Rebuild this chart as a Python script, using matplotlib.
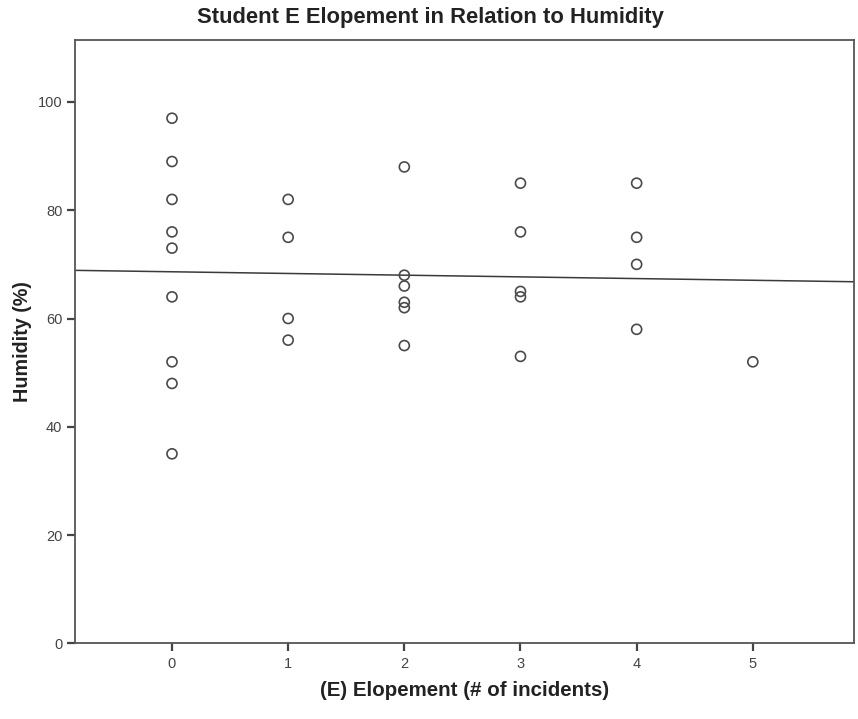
import numpy as np
import matplotlib
matplotlib.use("Agg")
import matplotlib.pyplot as plt

plt.rcParams['font.family'] = ['Liberation Sans', 'DejaVu Sans']

# Elopement incidents per day and humidity (%) recorded for that day
elopement = [0, 0, 0, 0, 0, 0, 0, 0, 0,
             1, 1, 1, 1,
             2, 2, 2, 2, 2, 2,
             3, 3, 3, 3, 3,
             4, 4, 4, 4,
             5]
humidity = [97, 89, 82, 76, 73, 64, 52, 48, 35,
            82, 75, 60, 56,
            88, 68, 66, 63, 62, 55,
            85, 76, 65, 64, 53,
            85, 75, 70, 58,
            52]
x_ticks = [0, 1, 2, 3, 4, 5]
y_ticks = [0, 20, 40, 60, 80, 100]

title = "Student E Elopement in Relation to Humidity"
x_label = "(E) Elopement (# of incidents)"
y_label = "Humidity (%)"

fig = plt.figure(figsize=(8.58, 7.19), dpi=100)
ax = fig.add_axes([0.0874, 0.1053, 0.9078, 0.8387])

x = np.array(elopement, dtype=float)
y = np.array(humidity, dtype=float)

ax.scatter(x, y, s=52, facecolors='none', edgecolors='#4a4a4a',
           linewidths=1.2, zorder=3)

# Least-squares fit line across the full x range
xlim = (-0.835, 5.87)
slope, intercept = np.polyfit(x, y, 1)
xs = np.array(xlim)
ax.plot(xs, intercept + slope * xs, color='#3a3a3a', linewidth=1.1, zorder=2)

ax.set_xlim(*xlim)
ax.set_ylim(0, 111.4)
ax.set_xticks(x_ticks)
ax.set_yticks(y_ticks)

for s in ax.spines.values():
    s.set_color('#555555')
    s.set_linewidth(1.3)

ax.tick_params(axis='both', direction='out', length=6, width=1.6,
               color='#444444', labelcolor='#444444', labelsize=10.5, pad=3)
ax.tick_params(axis='x', pad=4)

ax.set_xlabel(x_label, fontsize=14.8, fontweight='bold', color='#222222',
              labelpad=7)
ax.set_ylabel(y_label, fontsize=14.2, fontweight='bold', color='#222222',
              labelpad=4)
fig.text(0.502, 0.976, title, ha='center', va='center', fontsize=15.8,
         fontweight='bold', color='#222222')

fig.savefig("out.png", dpi=100)
